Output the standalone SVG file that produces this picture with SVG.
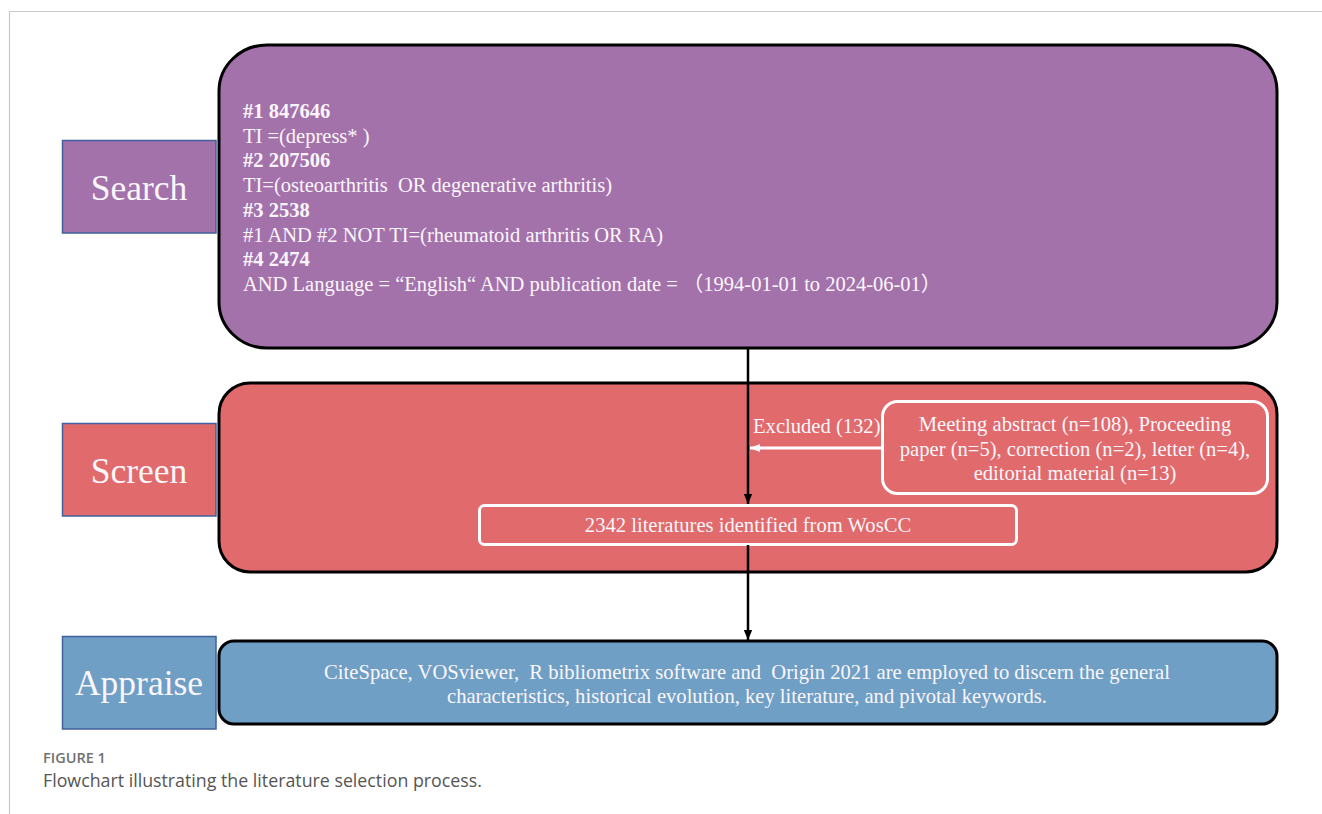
<svg xmlns="http://www.w3.org/2000/svg" width="1322" height="814" viewBox="0 0 1322 814">
<style>
.frame{stroke:#c8c8c8;stroke-width:1.2;fill:none}
.lbl{stroke:#41609c;stroke-width:1.5}
.big{stroke:#000;stroke-width:3}
.pur{fill:#a372ab}
.red{fill:#e06a6c}
.blu{fill:#6f9fc5}
.inner{fill:none;stroke:#fff;stroke-width:3}
.t{font-family:"Liberation Serif","Times New Roman","Noto Sans CJK SC",serif;fill:#fbf6fb}
.lt{font-size:35.5px;text-anchor:middle}
.st{font-size:20.5px;white-space:pre}
.b{font-weight:bold}
.m{font-size:20.6px;text-anchor:middle}
.cap{font-family:"Open Sans","Liberation Sans",sans-serif}
.conn{stroke:#000;stroke-width:2.5;fill:none}
.connw{stroke:#fff;stroke-width:3;fill:none}
</style>
<defs>
<marker id="ab" markerUnits="userSpaceOnUse" markerWidth="10" markerHeight="10" viewBox="0 0 10 10" refX="10" refY="5" orient="auto">
<path d="M0,0.8 L10,5 L0,9.2 Z" fill="#000"/>
</marker>
<marker id="aw" markerUnits="userSpaceOnUse" markerWidth="10" markerHeight="10" viewBox="0 0 10 10" refX="10" refY="5" orient="auto">
<path d="M0,1 L10,5 L0,9 Z" fill="#fff"/>
</marker>
</defs>
<rect width="1322" height="814" fill="#fff"/>
<path class="frame" d="M9.5,814 V11.5 H1322"/>

<g id="search-label">
<rect class="lbl pur" x="62.5" y="140.5" width="153.5" height="92.5"/>
<text class="t lt" x="139" y="200">Search</text>
</g>
<g id="search-box">
<rect class="big pur" x="219" y="45" width="1058" height="303" rx="48" ry="46"/>
<text class="t st b" x="243" y="118">#1 847646</text>
<text class="t st" x="243" y="142.7">TI =(depress* )</text>
<text class="t st b" x="243" y="167.4">#2 207506</text>
<text class="t st" x="243" y="192.1">TI=(osteoarthritis  OR degenerative arthritis)</text>
<text class="t st b" x="243" y="216.8">#3 2538</text>
<text class="t st" x="243" y="241.5">#1 AND #2 NOT TI=(rheumatoid arthritis OR RA)</text>
<text class="t st b" x="243" y="266.2">#4 2474</text>
<text class="t st" x="243" y="290.9">AND Language = “English“ AND publication date = （1994-01-01 to 2024-06-01）</text>
</g>

<g id="screen-label">
<rect class="lbl red" x="62.5" y="423.5" width="153.5" height="92.5"/>
<text class="t lt" x="139" y="483">Screen</text>
</g>
<g id="screen-box">
<rect class="big red" x="219" y="383" width="1058" height="189" rx="31" ry="31"/>
</g>
<g id="excluded-box">
<rect class="inner" x="882.5" y="401.5" width="385" height="92" rx="15" ry="15"/>
<text class="t m" x="1075" y="431">Meeting abstract (n=108), Proceeding</text>
<text class="t m" x="1075" y="456">paper (n=5), correction (n=2), letter (n=4),</text>
<text class="t m" x="1075" y="480">editorial material (n=13)</text>
</g>
<g id="identified-box">
<rect class="inner" x="479.5" y="505.5" width="537" height="39" rx="5" ry="5"/>
<text class="t m" x="748" y="532">2342 literatures identified from WosCC</text>
</g>

<g id="appraise-label">
<rect class="lbl blu" x="62.5" y="636.5" width="153.5" height="92.5"/>
<text class="t lt" x="139" y="695">Appraise</text>
</g>
<g id="appraise-box">
<rect class="big blu" x="219" y="641" width="1058" height="83" rx="15" ry="15"/>
<text class="t m" x="747" y="679" style="white-space:pre">CiteSpace, VOSviewer,  R bibliometrix software and  Origin 2021 are employed to discern the general</text>
<text class="t m" x="747" y="703">characteristics, historical evolution, key literature, and pivotal keywords.</text>
</g>

<g id="connectors">
<line class="conn" x1="748" y1="348" x2="748" y2="504" marker-end="url(#ab)"/>
<line class="conn" x1="748" y1="545" x2="748" y2="640" marker-end="url(#ab)"/>
<line class="connw" x1="882" y1="448" x2="750" y2="448" marker-end="url(#aw)"/>
<text class="t" x="753" y="433" font-size="20.6">Excluded (132)</text>
</g>

<g id="caption">
<text class="cap" x="43" y="763" font-size="14.5" font-weight="600" fill="#707070">FIGURE 1</text>
<text class="cap" x="43" y="787" font-size="17.8" fill="#555">Flowchart illustrating the literature selection process.</text>
</g>
</svg>
